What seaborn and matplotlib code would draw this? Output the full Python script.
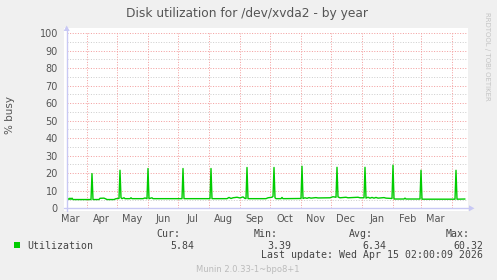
import matplotlib
matplotlib.use("Agg")
import matplotlib.pyplot as plt
from matplotlib.patches import Rectangle, Polygon
from matplotlib.lines import Line2D
import seaborn as sns
import pandas as pd

# ---------------- data ----------------
title = "Disk utilization for /dev/xvda2 - by year"
y_label = "% busy"
series_name = "Utilization"
start_date = pd.Timestamp("2025-03-12 07:00")
span_days = 400

# day offsets from start_date and utilization values (%)
days = [0, 1, 2, 3, 4, 5, 6, 24, 25, 26, 32, 33, 37, 39, 40, 47, 49, 52, 53, 54,
        55, 57, 58, 63, 64, 65, 76, 78, 80, 81, 82, 85, 86, 115, 116, 117, 143, 144,
        145, 160, 162, 164, 166, 170, 173, 176, 178, 179, 180, 181, 199, 201, 205,
        206, 207, 208, 209, 214, 215, 216, 234, 235, 236, 238, 240, 242, 244, 249,
        251, 263, 266, 269, 270, 271, 273, 279, 281, 291, 293, 297, 298, 299, 301,
        303, 305, 307, 309, 311, 317, 319, 325, 326, 327, 337, 338, 339, 353, 354,
        355, 388, 389, 390, 398]
values = [5.0, 5.6, 5.0, 5.8, 5.1, 5.8, 5.0, 5.0, 19.8, 5.0, 5.0, 5.7, 5.8, 5.3, 5.0,
          5.0, 5.5, 5.6, 21.7, 6.0, 5.5, 6.0, 5.5, 5.5, 6.0, 5.5, 5.5, 5.9, 5.5, 22.7,
          5.5, 6.0, 5.5, 5.5, 22.7, 5.5, 5.5, 22.7, 5.5, 5.5, 6.2, 5.6, 6.0, 6.3, 5.9,
          6.5, 5.6, 5.6, 23.3, 5.5, 5.5, 6.0, 6.3, 6.8, 23.3, 6.0, 5.5, 5.5, 6.2, 5.5,
          5.6, 24.0, 5.6, 6.0, 5.7, 6.1, 5.8, 6.1, 5.9, 6.0, 6.6, 6.3, 23.4, 6.5, 6.0,
          6.3, 6.0, 6.3, 6.0, 6.0, 23.4, 5.8, 6.3, 5.8, 6.2, 5.8, 6.2, 5.8, 6.1, 5.8,
          5.6, 24.6, 5.3, 5.3, 5.8, 5.3, 5.3, 21.7, 5.2, 5.2, 21.7, 5.2, 5.3]

month_starts = ["2025-04-01", "2025-05-01", "2025-06-01", "2025-07-01", "2025-08-01",
                "2025-09-01", "2025-10-01", "2025-11-01", "2025-12-01", "2026-01-01",
                "2026-02-01", "2026-03-01", "2026-04-01"]
month_label_dates = ["2025-03-16", "2025-04-16", "2025-05-16", "2025-06-16", "2025-07-16",
                     "2025-08-16", "2025-09-16", "2025-10-16", "2025-11-16", "2025-12-16",
                     "2026-01-16", "2026-02-16", "2026-03-16"]
month_labels = ["Mar", "Apr", "May", "Jun", "Jul", "Aug", "Sep", "Oct", "Nov", "Dec",
                "Jan", "Feb", "Mar"]
y_major = [0, 10, 20, 30, 40, 50, 60, 70, 80, 90, 100]
y_minor = [5, 15, 25, 35, 45, 55, 65, 75, 85, 95]

stat_heads = ["Cur:", "Min:", "Avg:", "Max:"]
stat_vals = ["5.84", "3.39", "6.34", "60.32"]
last_update = "Last update: Wed Apr 15 02:00:09 2026"
footer = "Munin 2.0.33-1~bpo8+1"
side_text = "RRDTOOL / TOBI OETIKER"

# ---------------- figure ----------------
sns.set_style("white")
plt.rcParams["font.family"] = ["DejaVu Sans"]

W, H = 497, 280
fig = plt.figure(figsize=(W / 100, H / 100), dpi=100, facecolor="#f0f0f0")


def fx(x):
    return x / W


def fy(y):
    return 1 - y / H


# white canvas
fig.add_artist(Rectangle((fx(64), fy(211)), fx(468) - fx(64), fy(28) - fy(211),
                         transform=fig.transFigure, facecolor="white",
                         edgecolor="none", zorder=0))

ax = fig.add_axes([fx(67), fy(208.3), fx(467) - fx(67), fy(33) - fy(208.3)])
ax.set_facecolor("none")
for s in ax.spines.values():
    s.set_visible(False)

df = pd.DataFrame({"date": start_date + pd.to_timedelta(days, unit="D"),
                   "value": values})
sns.lineplot(data=df, x="date", y="value", ax=ax, color="#00cc00", linewidth=1.0,
             zorder=5)

ax.set_xlim(start_date, start_date + pd.Timedelta(days=span_days))
ax.set_ylim(0, 100)
ax.set_xlabel("")
ax.set_ylabel("")

major_col = "#f3a0a0"
minor_col = "#cfcfcf"
dots = (0, (1, 1.6))

ax.set_xticks(pd.to_datetime(month_starts))
ax.set_xticklabels([""] * len(month_starts))
ax.set_xticks(pd.to_datetime(month_label_dates), minor=True)
ax.set_xticklabels(month_labels, minor=True)
ax.tick_params(axis="x", which="major", length=2, color=major_col, width=0.8)
ax.tick_params(axis="x", which="minor", length=0, pad=4, labelsize=7,
               labelcolor="#555555")

ax.set_yticks(y_major)
ax.set_yticklabels([str(v) for v in y_major])
ax.set_yticks(y_minor, minor=True)
ax.tick_params(axis="y", which="major", length=2, color=major_col, width=0.8,
               pad=4.5, labelsize=7, labelcolor="#555555")
ax.tick_params(axis="y", which="minor", length=2, color=minor_col, width=0.8)

ax.grid(False)
for v in y_minor:
    ax.axhline(v, color=minor_col, lw=0.72, ls=dots, zorder=1)
for v in y_major[1:]:
    ax.axhline(v, color=major_col, lw=0.72, ls=dots, zorder=2)
for d in pd.to_datetime(month_starts):
    ax.axvline(d, color=major_col, lw=0.72, ls=dots, zorder=2)

# axis lines with arrows
axis_col = "#c8c8f4"
fig.add_artist(Line2D([fx(66.7), fx(66.7)], [fy(211), fy(30)], color=axis_col,
                      lw=1.0, transform=fig.transFigure, zorder=6))
fig.add_artist(Line2D([fx(64), fx(470)], [fy(208.3), fy(208.3)], color=axis_col,
                      lw=1.0, transform=fig.transFigure, zorder=6))
fig.add_artist(Polygon([[fx(63.7), fy(31)], [fx(69.7), fy(31)], [fx(66.7), fy(25.5)]],
                       closed=True, transform=fig.transFigure, facecolor=axis_col,
                       edgecolor="none", zorder=6))
fig.add_artist(Polygon([[fx(469), fy(205.3)], [fx(469), fy(211.3)], [fx(474.5), fy(208.3)]],
                       closed=True, transform=fig.transFigure, facecolor=axis_col,
                       edgecolor="none", zorder=6))

# title and labels
fig.text(fx(247.5), fy(17.3), title, ha="center", va="baseline", fontsize=8.8,
         color="#555555")
fig.text(fx(10), fy(115), y_label, ha="center", va="center", rotation=90,
         fontsize=7.5, color="#555555")
fig.text(fx(487), fy(56), side_text, ha="center", va="center", rotation=270,
         fontsize=5, color="#c4c4c4")

# legend
mono = "DejaVu Sans Mono"
tc = "#444444"
fig.add_artist(Rectangle((fx(14), fy(248)), fx(6), fy(0) - fy(6),
                         transform=fig.transFigure, facecolor="#00cc00",
                         edgecolor="none"))
fig.text(fx(27), fy(249.3), series_name, ha="left", va="baseline", fontsize=7.1,
         family=mono, color=tc)
head_right = [180, 277.3, 373.3, 469.3]
val_right = [194, 291.7, 386.7, 483.3]
for h, hr in zip(stat_heads, head_right):
    fig.text(fx(hr), fy(237.3), h, ha="right", va="baseline", fontsize=7.1,
             family=mono, color=tc)
for v, vr in zip(stat_vals, val_right):
    fig.text(fx(vr), fy(249.3), v, ha="right", va="baseline", fontsize=7.1,
             family=mono, color=tc)
fig.text(fx(483.3), fy(258.5), last_update, ha="right", va="baseline", fontsize=7.1,
         family=mono, color=tc)
fig.text(fx(248), fy(272.3), footer, ha="center", va="baseline", fontsize=6,
         color="#bbbbbb")

fig.savefig("out.png", dpi=100, facecolor=fig.get_facecolor())
